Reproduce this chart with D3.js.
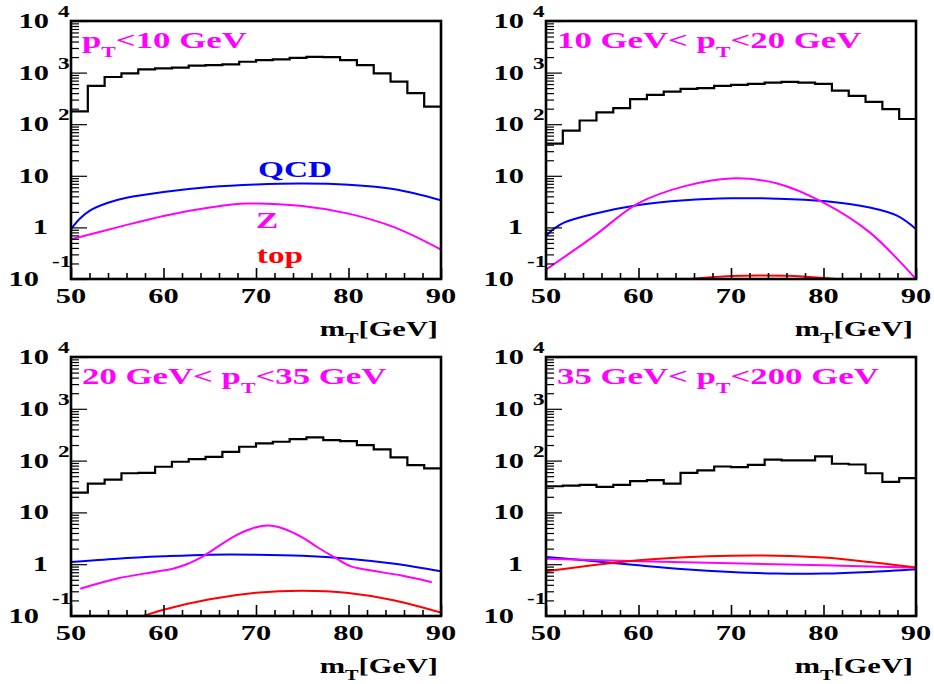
<!DOCTYPE html>
<html>
<head>
<meta charset="utf-8">
<script src="https://cdn.jsdelivr.net/npm/d3@7"></script>
<style>
  body { margin: 0; background: #fff; }
  svg { display: block; }
  text { font-family: "Liberation Serif", "Times New Roman", serif; font-weight: bold; white-space: pre; }
</style>
</head>
<body>
<svg id="chart" width="934" height="684"></svg>
<script>
// ---- axis definitions ----
const mtDomain = [50, 90];
const yDomain = [1e-1, 1e4];
const xMajorTicks = [50, 60, 70, 80, 90];
const xMinorTicks = [52, 54, 56, 58, 62, 64, 66, 68, 72, 74, 76, 78, 82, 84, 86, 88];
const xTickLabels = ["50", "60", "70", "80", "90"];
const yDecades = [-1, 0, 1, 2, 3, 4];
const yLabelBase = ["10", "1", "10", "10", "10", "10"];
const yLabelExp = ["-1", "", "", "2", "3", "4"];

// ---- panel titles (text before and after p_T) ----
const titlePre = ["", "10 GeV< ", "20 GeV< ", "35 GeV< "];
const titlePost = ["<10 GeV", "<20 GeV", "<35 GeV", "<200 GeV"];

// ---- data histograms (22 equal bins over 50-90 GeV) ----
const dataP1 = [177, 552, 822, 968, 1156, 1211, 1245, 1360, 1400, 1445, 1622, 1750, 1803, 1936, 2024, 1995, 1750, 1400, 968, 668, 399, 220];
const dataP2 = [42, 75, 118, 169, 205, 306, 370, 429, 483, 498, 552, 577, 603, 638, 659, 638, 603, 448, 354, 272, 196, 126];
const dataP3 = [24, 36, 43, 57, 58, 76, 95, 107, 118, 148, 185, 215, 231, 260, 281, 249, 238, 199, 164, 115, 82, 71];
const dataP4 = [32, 33, 34, 31, 34, 40, 42, 36, 58, 65, 77, 75, 83, 104, 101, 101, 121, 87, 84, 57, 39, 46];

// ---- background shapes: QCD ----
const qcdMassP1 = [50, 51, 52, 54, 56, 60, 65, 70, 75, 80, 85, 90];
const qcdP1 = [0.93, 1.5, 2.1, 3.0, 3.75, 4.85, 6.06, 6.8, 7.1, 6.7, 5.46, 3.35];
const qcdMassP2 = [50, 51, 52, 55, 60, 65, 70, 75, 80, 85, 88, 90];
const qcdP2 = [0.69, 0.98, 1.25, 1.8, 2.72, 3.35, 3.66, 3.61, 3.25, 2.42, 1.67, 0.93];
const qcdMassP3 = [50, 55, 60, 65, 70, 75, 80, 85, 90];
const qcdP3 = [1.10, 1.28, 1.42, 1.53, 1.53, 1.46, 1.28, 1.02, 0.73];
const qcdMassP4 = [50, 55, 60, 65, 70, 75, 80, 85, 90];
const qcdP4 = [1.38, 1.15, 0.95, 0.80, 0.71, 0.66, 0.66, 0.71, 0.80];

// ---- background shapes: Z ----
const zMassP1 = [50, 55, 60, 65, 69, 75, 80, 85, 90];
const zP1 = [0.59, 1.0, 1.67, 2.42, 2.89, 2.6, 1.85, 1.0, 0.37];
const zMassP2 = [50, 55, 60, 65, 70, 75, 80, 85, 90];
const zP2 = [0.152, 0.64, 2.94, 6.3, 8.9, 7.1, 3.02, 0.80, 0.1];
const zMassP3 = [51, 55, 59, 61, 62.5, 63.5, 64.5, 67.5, 69.5, 71.3, 73, 75, 76.6, 78.6, 80.2, 82, 85.6, 89];
const zP3 = [0.337, 0.53, 0.71, 0.82, 1.0, 1.2, 1.5, 3.35, 4.85, 5.6, 4.85, 3.3, 2.15, 1.32, 0.92, 0.78, 0.61, 0.45];
const zMassP4 = [50, 60, 70, 80, 90];
const zP4 = [1.28, 1.14, 1.04, 0.95, 0.85];

// ---- background shapes: top ----
const topMassP2 = [60, 65, 70, 73, 76, 80, 85, 90];
const topP2 = [0.075, 0.098, 0.114, 0.117, 0.115, 0.104, 0.086, 0.07];
const topMassP3 = [55, 57.8, 60, 65, 70, 75, 80, 85, 90];
const topP3 = [0.07, 0.1, 0.132, 0.21, 0.28, 0.308, 0.278, 0.2, 0.116];
const topMassP4 = [50, 55, 60, 65, 70, 75, 80, 85, 90];
const topP4 = [0.73, 0.95, 1.19, 1.36, 1.46, 1.46, 1.34, 1.10, 0.86];

const COL = { qcd: "#0000ff", z: "#ff00ff", top: "#ff0000" };
const SX = 1.45;  // horizontal stretch of glyphs

const panels = [
  { L: 71,  R: 441, T: 21,  B: 279, hist: dataP1,
    curves: [[qcdMassP1, qcdP1, COL.qcd], [zMassP1, zP1, COL.z]] },
  { L: 546, R: 916, T: 21,  B: 279, hist: dataP2,
    curves: [[qcdMassP2, qcdP2, COL.qcd], [zMassP2, zP2, COL.z], [topMassP2, topP2, COL.top]] },
  { L: 71,  R: 441, T: 357, B: 616, hist: dataP3,
    curves: [[qcdMassP3, qcdP3, COL.qcd], [zMassP3, zP3, COL.z], [topMassP3, topP3, COL.top]] },
  { L: 546, R: 916, T: 357, B: 616, hist: dataP4,
    curves: [[qcdMassP4, qcdP4, COL.qcd], [zMassP4, zP4, COL.z], [topMassP4, topP4, COL.top]] }
];

const svg = d3.select("#chart");

function sText(parent, x, y, anchor, size, fill) {
  return parent.append("text")
    .attr("transform", `translate(${x},${y}) scale(${SX},1)`)
    .attr("text-anchor", anchor)
    .attr("font-size", size)
    .attr("fill", fill || "#000");
}

function withSub(t, main, sub, after, subSize, drop) {
  t.append("tspan").text(main);
  t.append("tspan").attr("font-size", subSize).attr("dy", drop).text(sub);
  t.append("tspan").attr("dy", -drop).text(after);
}

panels.forEach((p, idx) => {
  const g = svg.append("g");
  const x = d3.scaleLinear().domain(mtDomain).range([p.L, p.R]);
  const y = d3.scaleLog().domain(yDomain).range([p.B, p.T]);

  const clipId = "clip" + idx;
  g.append("clipPath").attr("id", clipId)
    .append("rect").attr("x", p.L).attr("y", p.T)
    .attr("width", p.R - p.L).attr("height", p.B - p.T);

  // histogram
  const n = p.hist.length;
  const w = (mtDomain[1] - mtDomain[0]) / n;
  const steps = p.hist.map((v, i) => [mtDomain[0] + i * w, v]);
  steps.push([mtDomain[1], p.hist[n - 1]]);
  g.append("path")
    .attr("d", d3.line().x(d => x(d[0])).y(d => y(d[1])).curve(d3.curveStepAfter)(steps))
    .attr("fill", "none").attr("stroke", "#000").attr("stroke-width", 2.2);

  // background curves
  const curveLine = d3.line().x(d => x(d[0])).y(d => y(d[1])).curve(d3.curveCatmullRom.alpha(0.5));
  p.curves.forEach(([ms, vs, col]) => {
    g.append("path")
      .attr("clip-path", `url(#${clipId})`)
      .attr("d", curveLine(ms.map((m, i) => [m, vs[i]])))
      .attr("fill", "none").attr("stroke", col).attr("stroke-width", 2);
  });

  // x ticks
  g.append("g").attr("transform", `translate(0,${p.B})`)
    .call(d3.axisBottom(x).tickValues(xMajorTicks).tickSize(-11).tickFormat(""))
    .call(a => a.select(".domain").remove())
    .selectAll("line").attr("stroke-width", 1.6);
  g.append("g").attr("transform", `translate(0,${p.B})`)
    .call(d3.axisBottom(x).tickValues(xMinorTicks).tickSize(-6).tickFormat(""))
    .call(a => a.select(".domain").remove())
    .selectAll("line").attr("stroke-width", 1.6);

  // y ticks
  const decadeVals = yDecades.map(k => Math.pow(10, k));
  const minorVals = y.ticks().filter(v => !decadeVals.some(d => Math.abs(d - v) / d < 1e-9));
  g.append("g").attr("transform", `translate(${p.L},0)`)
    .call(d3.axisLeft(y).tickValues(decadeVals).tickSize(-16).tickFormat(""))
    .call(a => a.select(".domain").remove())
    .selectAll("line").attr("stroke-width", 1.2);
  g.append("g").attr("transform", `translate(${p.L},0)`)
    .call(d3.axisLeft(y).tickValues(minorVals).tickSize(-8).tickFormat(""))
    .call(a => a.select(".domain").remove())
    .selectAll("line").attr("stroke-width", 1.2);

  // frame
  g.append("rect").attr("x", p.L).attr("y", p.T)
    .attr("width", p.R - p.L).attr("height", p.B - p.T)
    .attr("fill", "none").attr("stroke", "#000").attr("stroke-width", 2.6);

  // x tick labels
  xMajorTicks.forEach((v, i) => {
    sText(g, x(v), p.B + 24, "middle", 21).text(xTickLabels[i]);
  });

  // y tick labels
  yDecades.forEach((k, i) => {
    const ty = y(Math.pow(10, k));
    if (k < 0) {
      sText(g, p.L - 32, ty + 7, "end", 21).text(yLabelBase[i]);
      sText(g, p.L - 19, ty - 12, "start", 16).text(yLabelExp[i]);
    } else if (k === 0) {
      sText(g, p.L - 23, ty + 7, "end", 21).text(yLabelBase[i]);
    } else {
      sText(g, p.L - 22, ty + 7, "end", 21).text(yLabelBase[i]);
      if (yLabelExp[i]) sText(g, p.L - 13, ty - 4, "start", 16).text(yLabelExp[i]);
    }
  });

  // axis title
  withSub(sText(g, p.R - 3, p.B + 57, "end", 21), "m", "T", "[GeV]", 14, 7);

  // panel title
  withSub(sText(g, p.L + 11, p.T + 27, "start", 24, COL.z), titlePre[idx] + "p", "T", titlePost[idx], 15, 9);

  // component labels
  if (idx === 0) {
    sText(g, 295, 177, "middle", 23, COL.qcd).text("QCD");
    sText(g, 267, 228, "middle", 23, COL.z).text("Z");
    sText(g, 280, 263, "middle", 23, COL.top).text("top");
  }
});
</script>
</body>
</html>
